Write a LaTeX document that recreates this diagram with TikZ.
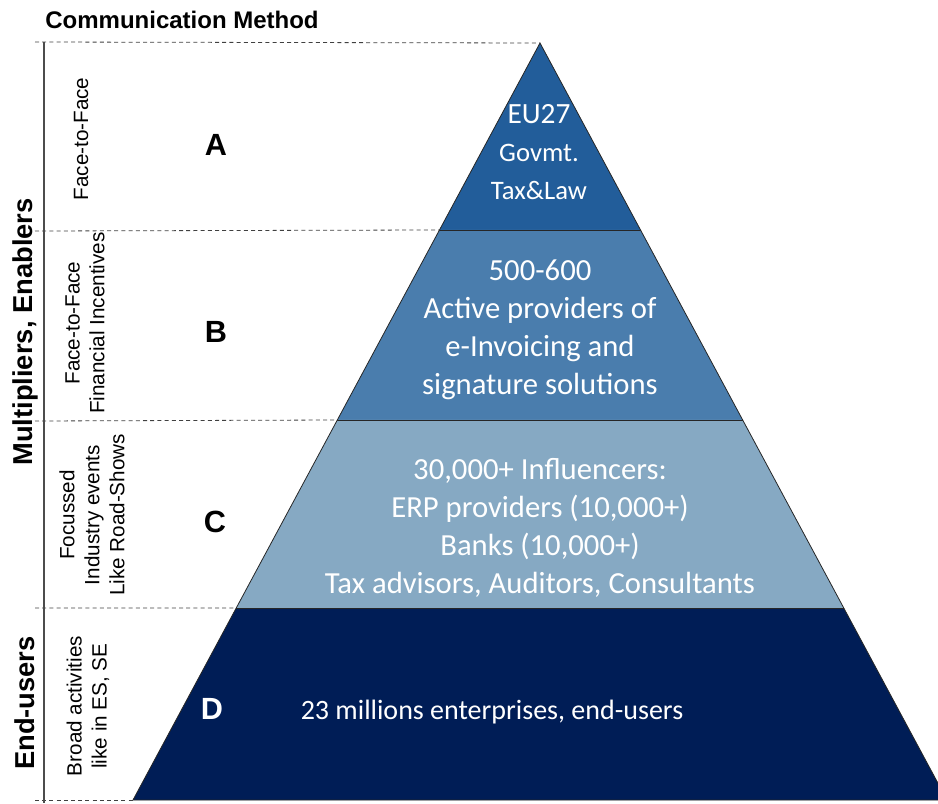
\documentclass[tikz,border=0pt]{standalone}
\usepackage{fontspec}
\setmainfont{Liberation Sans}
\newfontfamily\calibri{Carlito}
\usetikzlibrary{calc}
\definecolor{tierA}{RGB}{34,93,154}
\definecolor{tierB}{RGB}{74,125,173}
\definecolor{tierC}{RGB}{134,169,195}
\definecolor{tierD}{RGB}{0,29,86}
\tikzset{edge/.style={draw=black!85,line width=0.6pt},
    guide/.style={dash pattern=on 3pt off 2.4pt,draw=black!75,line width=0.6pt},
    level/.style={font=\calibri\fontsize{23}{28.5}\selectfont,text=white,align=center,inner sep=0.75pt},
    letter/.style={font=\bfseries\fontsize{23}{26}\selectfont,inner sep=0.75pt},
    method/.style={rotate=90,align=center,font=\fontsize{15.5}{18.7}\selectfont,inner sep=0.75pt},
    group/.style={rotate=90,font=\bfseries\fontsize{20.5}{24}\selectfont,inner sep=0.75pt}}

\begin{document}
\begin{tikzpicture}[x=0.75pt,y=0.75pt,yscale=-1,xscale=1]
\path[use as bounding box] (0,0) rectangle (938,803);

%Pyramid corners and level points
\coordinate (apex) at (540,43);
\coordinate (bl) at (133,800);
\coordinate (br) at (947,800);
\coordinate (abL) at ($(apex)!0.247!(bl)$);
\coordinate (abR) at ($(apex)!0.247!(br)$);
\coordinate (bcL) at ($(apex)!0.498!(bl)$);
\coordinate (bcR) at ($(apex)!0.498!(br)$);
\coordinate (cdL) at ($(apex)!0.7464!(bl)$);
\coordinate (cdR) at ($(apex)!0.7464!(br)$);

%Shape: Levels
\fill[tierA] (apex) -- (abR) -- (abL) -- cycle;
\fill[tierB] (abL) -- (abR) -- (bcR) -- (bcL) -- cycle;
\fill[tierC] (bcL) -- (bcR) -- (cdR) -- (cdL) -- cycle;
\fill[tierD] (cdL) -- (cdR) -- (br) -- (bl) -- cycle;
\draw[edge] (bl) -- (apex) -- (br) -- cycle;
\draw[edge] (abL) -- (abR) (bcL) -- (bcR) (cdL) -- (cdR);

%Dashed guides
\coordinate (g0) at (35,42);
\coordinate (g1) at (35,231);
\coordinate (g2) at (35,421);
\coordinate (g3) at (35,608);
\coordinate (g4) at (35,800);
\draw[guide] (g0) -- (apex);
\draw[guide] (g1) -- (abL);
\draw[guide] (g2) -- (bcL);
\draw[guide] (g3) -- (cdL);
\draw[guide] (g4) -- (bl);

%Straight Lines: left axis
\coordinate (axT) at (44,42);
\coordinate (axB) at (44,803);
\draw[black!70,line width=1pt] (axT) -- (axB);

% Text Node
\node[font=\bfseries\fontsize{18}{21}\selectfont,inner sep=0.75pt] (title) at (182,20) {Communication Method};
% Text Node
\node[group] (multi) at (25,332) {Multipliers, Enablers};
\node[group] (endu) at (25,703) {End-users};
% Text Node
\node[method] (mA) at (81,139) {Face-to-Face};
\node[method] (mB) at (85,323) {Face-to-Face\\Financial Incentives};
\node[method] (mC) at (92,515) {Focussed\\Industry events\\Like Road-Shows};
\node[method] (mD) at (88,706) {Broad activities\\like in ES, SE};
% Text Node
\node[letter] (lA) at (216,145) {A};
\node[letter] (lB) at (216,332) {B};
\node[letter] (lC) at (215,522) {C};
\node[letter,text=white] (lD) at (212,709) {D};
% Text Node
\node[level] (tA) at (539,152) {{\fontsize{22}{28}\selectfont EU27}\\{\fontsize{20}{31}\selectfont Govmt.}\\{\fontsize{20}{31}\selectfont Tax\&Law}};
\node[level] (tB) at (540,330) {500-600\\Active providers of\\e-Invoicing and\\signature solutions};
\node[level] (tC) at (540,528) {30,000+ Influencers:\\ERP providers (10,000+)\\Banks (10,000+)\\Tax advisors, Auditors, Consultants};
\node[level,font=\calibri\fontsize{21}{26}\selectfont] (tD) at (492,712) {23 millions enterprises, end-users};

\end{tikzpicture}
\end{document}
